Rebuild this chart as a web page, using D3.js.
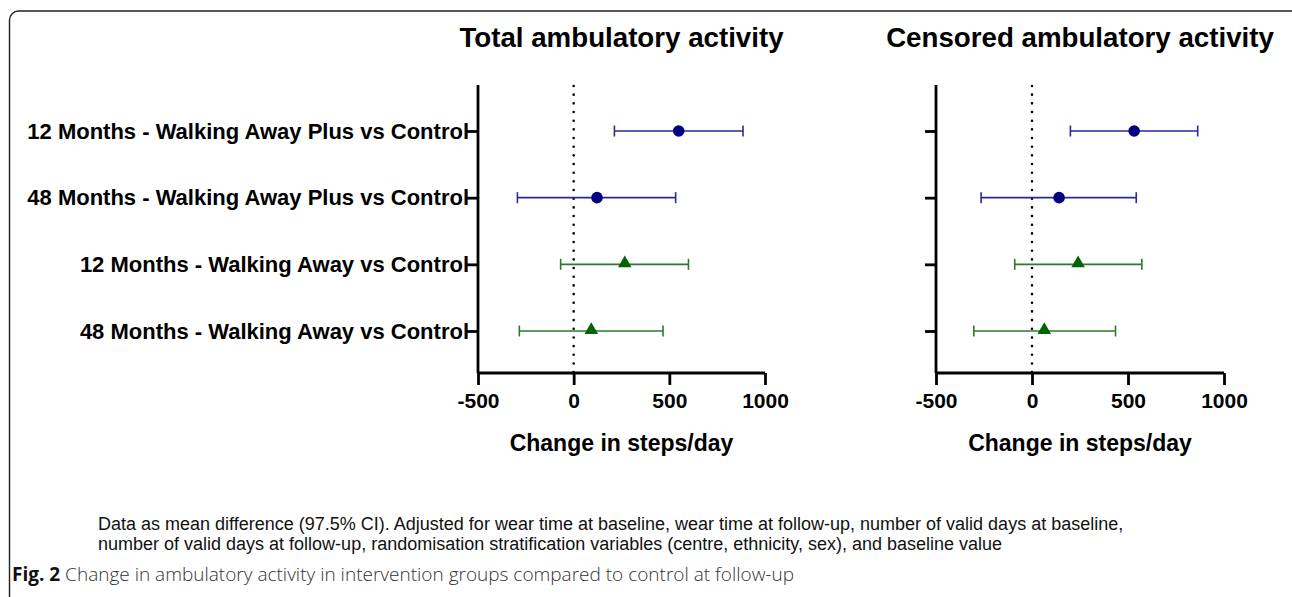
<!DOCTYPE html>
<html>
<head>
<meta charset="utf-8">
<script src="https://cdn.jsdelivr.net/npm/d3@7"></script>
<style>
  body { margin: 0; background: #fff; }
  svg { display: block; }
  text { font-family: "Liberation Sans", Arial, sans-serif; }
</style>
</head>
<body>
<svg id="paper"></svg>
<script>
// chart data
let rows = [
    "12 Months - Walking Away Plus vs Control",
    "48 Months - Walking Away Plus vs Control",
    "12 Months - Walking Away vs Control",
    "48 Months - Walking Away vs Control"
];
let groups = ["plus", "plus", "wa", "wa"];
let xTicks = [-500, 0, 500, 1000];

let totalMean = [549, 122, 267, 92];
let totalLow = [213, -294, -68, -284];
let totalHigh = [885, 533, 600, 467];

let censMean = [532, 141, 240, 64];
let censLow = [200, -265, -90, -303];
let censHigh = [863, 543, 572, 435];

let panelTitles = ["Total ambulatory activity", "Censored ambulatory activity"];
let xTitle = "Change in steps/day";
let noteLines = [
    "Data as mean difference (97.5% CI). Adjusted for wear time at baseline, wear time at follow-up, number of valid days at baseline,",
    "number of valid days at follow-up, randomisation stratification variables (centre, ethnicity, sex), and baseline value"
];
let captionBold = "Fig. 2";
let captionText = " Change in ambulatory activity in intervention groups compared to control at follow-up";

let width = 1292, height = 597;
let markColor = {plus: "#000080", wa: "#006400"};
let barColor = {plus: "#2a2a96", wa: "#2c7a2c"};

let svg = d3.select("#paper").attr("width", width).attr("height", height);

// outer frame
svg.append("rect")
    .attr("x", 9.5).attr("y", 11).attr("width", 1300).attr("height", 620)
    .attr("rx", 9).attr("ry", 9)
    .attr("fill", "none").attr("stroke", "#222").attr("stroke-width", 1.4);

let y = d3.scalePoint().domain(rows).range([131, 331]);
let axisTop = 85, axisY = 373;

function drawPanel(left, right, title, mean, low, high, showLabels) {
    let x = d3.scaleLinear().domain([-500, 1000]).range([left, right]);
    let g = svg.append("g");

    g.append("text")
        .attr("x", (left + right) / 2).attr("y", 47)
        .attr("text-anchor", "middle")
        .style("font-size", "27.7px").style("font-weight", "bold")
        .text(title);

    // dotted zero line
    g.append("line")
        .attr("x1", x(0)).attr("x2", x(0))
        .attr("y1", axisTop + 1).attr("y2", axisY)
        .attr("stroke", "#000").attr("stroke-width", 2.6)
        .attr("stroke-linecap", "round")
        .attr("stroke-dasharray", "0,8.67");

    // x axis
    let xAxis = g.append("g")
        .attr("transform", "translate(0," + axisY + ")")
        .call(d3.axisBottom(x).tickValues(xTicks).tickSize(12).tickPadding(8).tickFormat(d => String(d)));
    xAxis.select(".domain").attr("stroke-width", 2.8).attr("d", "M" + left + ",0H" + right);
    xAxis.selectAll(".tick line").attr("stroke-width", 2.8);
    xAxis.selectAll(".tick text")
        .style("font-size", "21px").style("font-weight", "bold")
        .style("font-family", "'Liberation Sans', Arial, sans-serif")
        .attr("fill", "#000");

    // y axis
    let yAxis = g.append("g")
        .attr("transform", "translate(" + left + ",0)")
        .call(d3.axisLeft(y).tickSize(11).tickPadding(-2).tickFormat(showLabels ? (d => d) : ""));
    yAxis.select(".domain").attr("stroke-width", 2.8).attr("d", "M0," + axisTop + "V" + axisY);
    yAxis.selectAll(".tick line").attr("stroke-width", 2.8);
    yAxis.selectAll(".tick text")
        .style("font-size", "22px").style("font-weight", "bold")
        .style("font-family", "'Liberation Sans', Arial, sans-serif")
        .attr("fill", "#000");

    g.append("text")
        .attr("x", (left + right) / 2).attr("y", 451)
        .attr("text-anchor", "middle")
        .style("font-size", "23px").style("font-weight", "bold")
        .text(xTitle);

    // error bars
    let items = rows.map((r, i) => ({row: r, grp: groups[i], m: mean[i], lo: low[i], hi: high[i]}));
    let bars = g.selectAll(".bar").data(items).enter().append("g").attr("class", "bar");
    bars.append("line")
        .attr("x1", d => x(d.lo)).attr("x2", d => x(d.hi))
        .attr("y1", d => y(d.row)).attr("y2", d => y(d.row))
        .attr("stroke", d => barColor[d.grp]).attr("stroke-width", 1.6);
    bars.append("line")
        .attr("x1", d => x(d.lo)).attr("x2", d => x(d.lo))
        .attr("y1", d => y(d.row) - 5.5).attr("y2", d => y(d.row) + 5.5)
        .attr("stroke", d => barColor[d.grp]).attr("stroke-width", 1.6);
    bars.append("line")
        .attr("x1", d => x(d.hi)).attr("x2", d => x(d.hi))
        .attr("y1", d => y(d.row) - 5.5).attr("y2", d => y(d.row) + 5.5)
        .attr("stroke", d => barColor[d.grp]).attr("stroke-width", 1.6);

    bars.filter(d => d.grp === "plus").append("circle")
        .attr("cx", d => x(d.m)).attr("cy", d => y(d.row)).attr("r", 5.8)
        .attr("fill", d => markColor[d.grp]);
    bars.filter(d => d.grp === "wa").append("path")
        .attr("d", d3.symbol().type(d3.symbolTriangle).size(80))
        .attr("transform", d => "translate(" + x(d.m) + "," + (y(d.row) - 1) + ")")
        .attr("fill", d => markColor[d.grp]);
}

drawPanel(478, 765, panelTitles[0], totalMean, totalLow, totalHigh, true);
drawPanel(936, 1224, panelTitles[1], censMean, censLow, censHigh, false);

// footnote
svg.selectAll(".note").data(noteLines).enter().append("text")
    .attr("class", "note")
    .attr("x", 98).attr("y", (d, i) => 530 + i * 20)
    .style("font-size", "18px").attr("fill", "#111")
    .text(d => d);

let cap = svg.append("text").attr("x", 12).attr("y", 581)
    .style("font-family", "'Open Sans', 'Noto Sans', sans-serif")
    .style("font-size", "19px").attr("fill", "#333");
cap.append("tspan").style("font-weight", "bold").attr("fill", "#111").text(captionBold);
cap.append("tspan").style("font-weight", "300").text(captionText);
</script>
</body>
</html>
